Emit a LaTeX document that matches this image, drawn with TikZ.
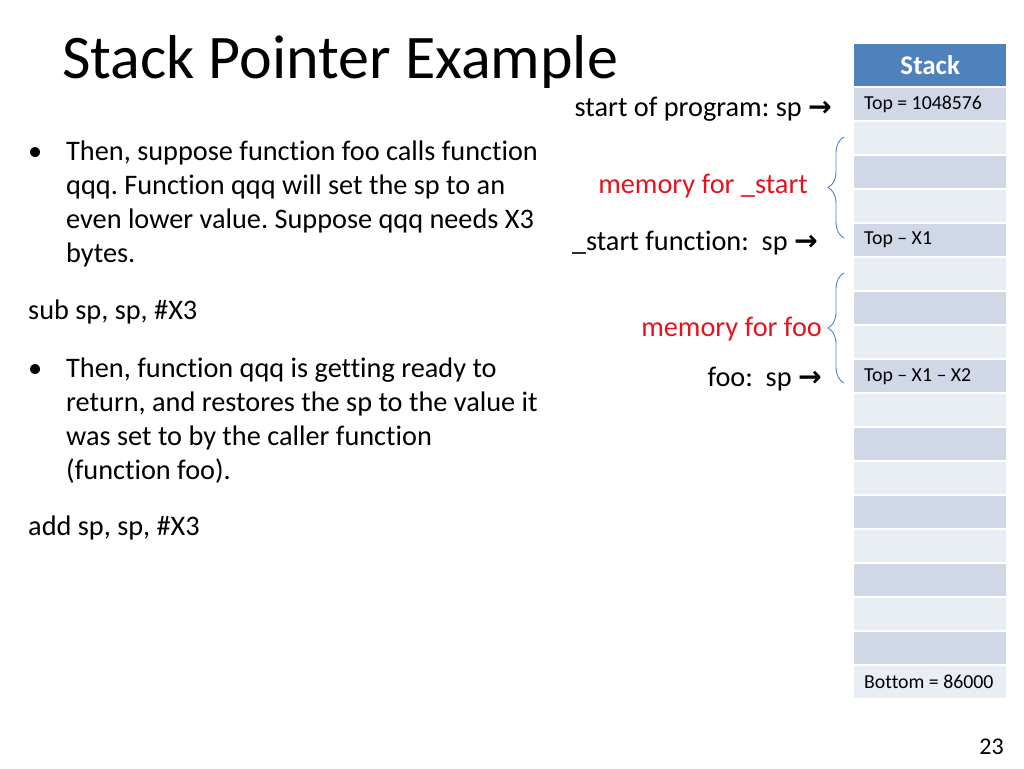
\documentclass[tikz,border=0pt]{standalone}
\usepackage{fontspec}
\setmainfont[Ligatures=NoCommon]{Carlito}
\newfontfamily\symfont{DejaVu Sans}
\usetikzlibrary{decorations.pathreplacing}
\frenchspacing

\definecolor{hdrblue}{HTML}{4F81BD}
\definecolor{rowdark}{HTML}{D0D8E8}
\definecolor{rowlight}{HTML}{E9EDF4}
\definecolor{memred}{HTML}{E3141E}

\tikzset{
  stackrow/.style={minimum width=152pt, minimum height=32pt, inner sep=0pt, anchor=north west},
  rowtext/.style={font=\fontsize{19.8}{24}\selectfont, inner sep=0pt, anchor=west},
  bodytext/.style={font=\fontsize{28.3}{34}\selectfont, inner sep=0pt},
  sptext/.style={bodytext, anchor=base east},
  memtext/.style={bodytext, text=memred, anchor=base east},
  membrace/.style={draw=hdrblue, line width=0.9pt, decorate, decoration={brace, amplitude=16pt}}
}

\begin{document}
\begin{tikzpicture}[x=1pt, y=-1pt]
    \useasboundingbox (0,0) rectangle (1024,768);

    % 标题
    \node[font=\fontsize{62}{70}\selectfont, inner sep=0pt, anchor=base west] (title) at (62,78) {Stack Pointer Example};

    % 左边的文字
    \node[bodytext, anchor=base west] (dot1) at (28,160) {•};
    \node[bodytext, anchor=base west, align=left] (para1) at (66,262) {Then, suppose function foo calls function\\qqq. Function qqq will set the sp to an\\even lower value. Suppose qqq needs X3\\bytes.};
    \node[bodytext, anchor=base west] (subcmd) at (28,319) {sub sp, sp, \#X3};
    \node[bodytext, anchor=base west] (dot2) at (28,377) {•};
    \node[bodytext, anchor=base west, align=left] (para2) at (66,479) {Then, function qqq is getting ready to\\return, and restores the sp to the value it\\was set to by the caller function\\(function foo).};
    \node[bodytext, anchor=base west] (addcmd) at (28,535) {add sp, sp, \#X3};

    % 栈
    \node[stackrow, minimum height=42pt, fill=hdrblue, text=white, font=\fontsize{27}{30}\selectfont\bfseries] (hdr) at (854,44) {Stack};
    \foreach \i in {1,...,18} {
      \pgfmathtruncatemacro{\odd}{mod(\i,2)}
      \ifnum\odd=1 \def\rowcol{rowdark}\else \def\rowcol{rowlight}\fi
      \node[stackrow, fill=\rowcol] (r\i) at (854,{88+(\i-1)*34}) {};
    }

    \node[rowtext] (topval) at ([xshift=10pt]r1.west) {Top = 1048576};
    \node[rowtext] (topx1) at ([xshift=10pt]r5.west) {Top – X1};
    \node[rowtext] (topx2) at ([xshift=10pt]r9.west) {Top – X1 – X2};
    \node[rowtext] (botval) at ([xshift=10pt]r18.west) {Bottom = 86000};

    % 栈指针
    \node[sptext] (spstart) at (832,116) {start of program: sp {\symfont\bfseries →}};
    \node[sptext] (spfunc) at (818,250) {\_start function:\ \ sp {\symfont\bfseries →}};
    \node[sptext] (spfoo) at (822,386) {foo:\ \ sp {\symfont\bfseries →}};

    % 花括号
    \node[memtext] (memstart) at (808,193) {memory for \_start};
    \node[memtext] (memfoo) at (822,336) {memory for foo};
    \coordinate (b1top) at (844,137);
    \coordinate (b1bot) at (844,238);
    \coordinate (b2top) at (844,273);
    \coordinate (b2bot) at (844,383);
    \draw[membrace] (b1bot) -- (b1top);
    \draw[membrace] (b2bot) -- (b2top);

    % 页码
    \node[font=\fontsize{24}{28}\selectfont, inner sep=0pt, anchor=base east] (pagenum) at (1004,754) {23};
\end{tikzpicture}
\end{document}
